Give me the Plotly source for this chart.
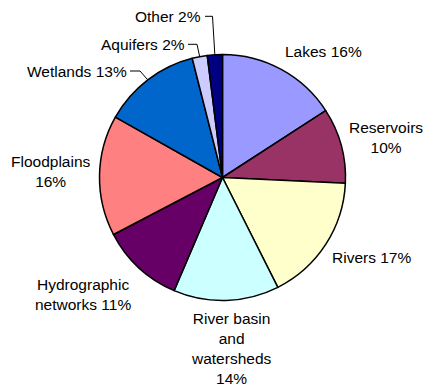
import math
import plotly.graph_objects as go

# Share of studies by type of water body (%)
categories = ["Lakes", "Reservoirs", "Rivers", "River basin and watersheds",
              "Hydrographic networks", "Floodplains", "Wetlands", "Aquifers", "Other"]
shares = [16, 10, 17, 14, 11, 16, 13, 2, 2]

# Label text lines (category part) for each slice
label_lines = [["Lakes"], ["Reservoirs"], ["Rivers"], ["River basin", "and", "watersheds"],
               ["Hydrographic", "networks"], ["Floodplains"], ["Wetlands"], ["Aquifers"], ["Other"]]

colors = ["#9999FF", "#993366", "#FFFFCC", "#CCFFFF", "#660066",
          "#FF8080", "#0066CC", "#CCCCFF", "#000080"]

W, H = 426, 390
CX, CY, R = 222.5, 177.5, 123.0   # pie centre / radius in pixels

def px(x):
    return x / W

def py(y):
    return 1 - y / H

# Label anchors (pixels) and whether the percentage joins the last line
label_pos = [(323.8, 51.7, True), (385.5, 137.5, False), (371, 257.3, True),
             (231.7, 348.3, False), (82.5, 294, True), (50.5, 171.7, False),
             (77.2, 71, True), (142.8, 44.3, True), (168, 16.3, True)]

# Leader lines: (text end x, elbow x) for the small slices at the top
leaders = {6: (130, 140), 7: (188, 197), 8: (205, 212.5)}

fig = go.Figure(go.Pie(
    labels=categories,
    values=shares,
    sort=False,
    direction="clockwise",
    rotation=0,
    textinfo="none",
    hoverinfo="label+percent",
    marker=dict(colors=colors, line=dict(color="black", width=1.5)),
    domain=dict(x=[px(CX - R), px(CX + R)], y=[py(CY + R), py(CY - R)]),
    showlegend=False,
))

total = sum(shares)
pcts = [round(100 * v / total) for v in shares]

annotations = []
for i, (lines, (lx, ly, joined)) in enumerate(zip(label_lines, label_pos)):
    pct = f"{pcts[i]}%"
    if joined:
        text_lines = lines[:-1] + [f"{lines[-1]} {pct}"]
    else:
        text_lines = lines + [pct]
    annotations.append(dict(
        x=px(lx), y=py(ly), xref="paper", yref="paper",
        text="<br>".join(text_lines), showarrow=False,
        xanchor="center", yanchor="middle", align="center",
        font=dict(family="Liberation Sans, Arial, sans-serif", size=15.5, color="black"),
    ))

# Leader lines from label to the middle of the slice's outer edge
shapes = []
cum = 0.0
mids = []
for v in shares:
    mids.append((cum + v / 2) / total * 2 * math.pi)
    cum += v
for i, (tx, ex) in leaders.items():
    ly = label_pos[i][1]
    a = mids[i]
    edge_x = CX + R * math.sin(a)
    edge_y = CY - R * math.cos(a)
    path = (f"M {px(tx)},{py(ly)} L {px(ex)},{py(ly)} "
            f"L {px(edge_x)},{py(edge_y)}")
    shapes.append(dict(type="path", path=path, xref="paper", yref="paper",
                       line=dict(color="black", width=1)))

fig.update_layout(
    width=W, height=H,
    margin=dict(l=0, r=0, t=0, b=0),
    paper_bgcolor="white",
    plot_bgcolor="white",
    annotations=annotations,
    shapes=shapes,
)

fig.write_html("out.html")
